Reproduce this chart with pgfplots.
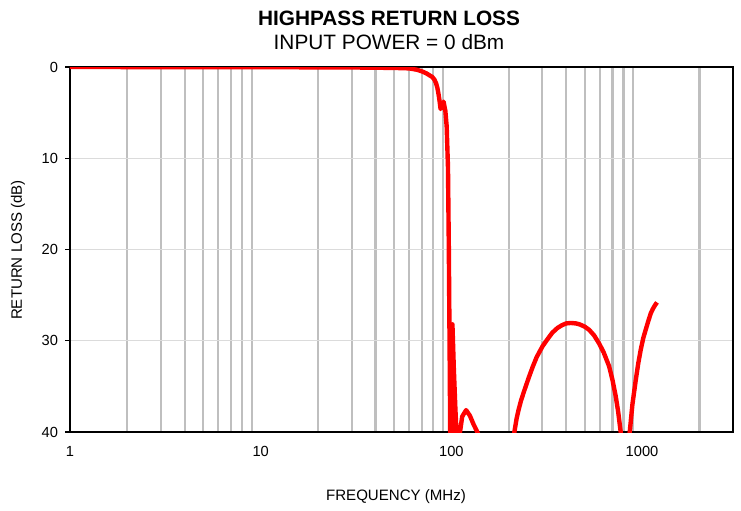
\documentclass[border=0pt]{standalone}
\usepackage{fontspec}
\setmainfont{Liberation Sans}
\usepackage{pgfplots}
\pgfplotsset{compat=1.18}
\begin{document}
\begin{tikzpicture}[x=0.75pt,y=0.75pt]
\useasboundingbox (-70,-78) rectangle (671,432);
\begin{axis}[
  at={(0,0)}, anchor=south west,
  scale only axis, width=497.25pt, height=273.75pt,
  xmode=log, xmin=1, xmax=3000,
  ymin=0, ymax=40, y dir=reverse,
  xtick={1,10,100,1000}, xticklabels={1,10,100,1000},
  minor xtick={2,3,...,9,20,30,...,90,200,300,...,900,2000},
  ytick={0,10,20,30,40},
  ytick pos=left,
  xminorgrids=true, xmajorgrids=false, ymajorgrids=true,
  minor x grid style={draw=black!25, line width=1.6pt},
  major y grid style={draw=black!14, line width=0.9pt},
  axis line style={line width=1.7pt, black},
  xtick style={draw=none},
  minor tick length=0pt,
  ytick style={black, line width=1pt},
  tick align=outside, major tick length=3.5pt,
  /pgf/number format/assume math mode=true,
  x tick label style={font=\fontsize{11}{13}\selectfont, yshift=-4pt},
  y tick label style={font=\fontsize{11}{13}\selectfont, xshift=-2pt},
  clip=true,
]
\addplot[red, line width=3.3pt, line join=round] coordinates {
(1,0) (10,0.02) (30,0.05) (50,0.1) (60,0.15) (66,0.3) (70.5,0.5) (74,0.7) (76.7,0.9)
(79.5,1.1) (81.6,1.4) (83.2,1.8) (84.5,2.3) (85.7,3.0) (86.7,3.7) (87.8,4.6) (89,4.3) (91,3.8) (93,4.8)
(94.5,6.5) (96,11) (97,20) (98,32) (99,45) (100.5,45) (101.3,28.2)
(103,33) (105,37.5) (107.5,42) (109,44) (111,40) (114,38.3) (119.5,37.6)
(125,38.2) (131,39.2) (139,40.3) (145,41.5) (150,45) (205,45)
(214,40) (220,38.5) (225,37.6) (231.6,36.6) (240,35.6) (255,34.0) (266.6,32.9)
(280,31.8) (300.8,30.6) (320,29.8) (339,29.1) (360,28.6)
(380,28.3) (400,28.1) (423,28.05) (450,28.1) (470,28.2) (500,28.45) (527.8,28.8)
(560,29.4) (595.6,30.3) (630,31.3) (672,32.8) (700,34.3)
(728,36.1) (750,37.8) (773,40) (800,43) (830,43) (862,40) (890,37) (927,34.3)
(955,32.5) (984,31.0) (1015,29.7) (1045,28.8) (1080,27.8) (1111,27.0) (1140,26.5)
(1170,26.1) (1198,25.8)
};
\end{axis}
\node[font=\bfseries\fontsize{15.6}{18}\selectfont] at (319,414) {HIGHPASS RETURN LOSS};
\node[font=\fontsize{15.6}{18}\selectfont] at (319,390) {INPUT POWER = 0 dBm};
\node[font=\fontsize{11.3}{13}\selectfont] at (326,-65) {FREQUENCY (MHz)};
\node[font=\fontsize{11.3}{13}\selectfont, rotate=90] at (-52,182) {RETURN LOSS (dB)};
\end{tikzpicture}
\end{document}
